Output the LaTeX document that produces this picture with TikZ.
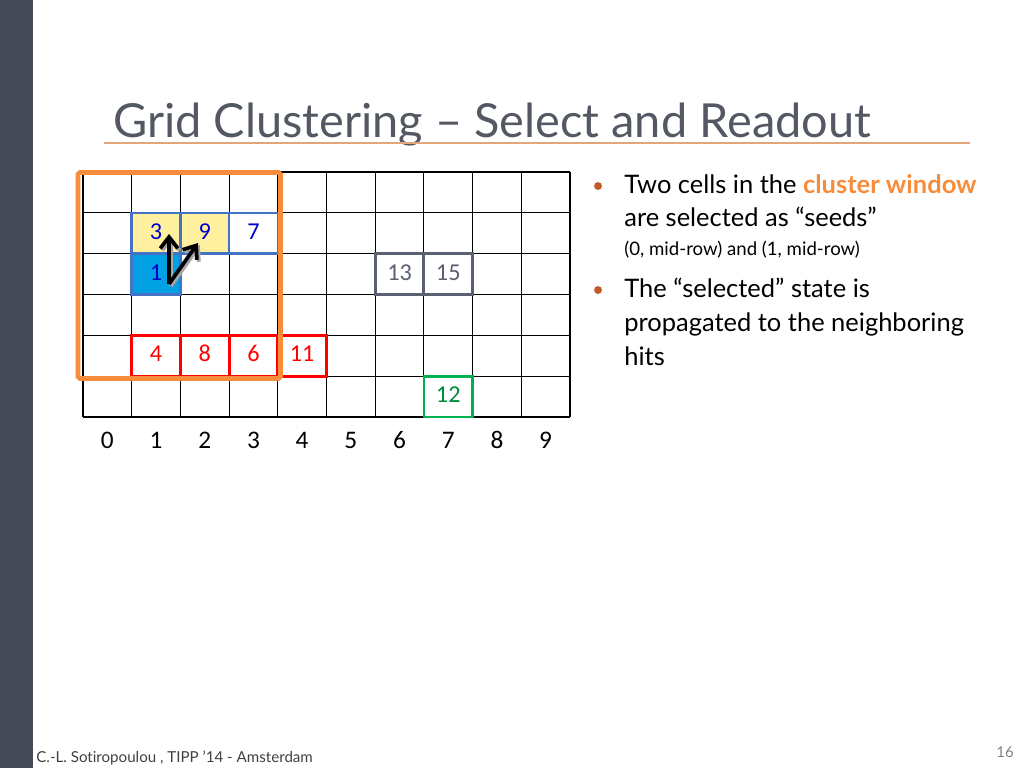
\documentclass[tikz,border=0pt]{standalone}
\usepackage{fontspec}
\setmainfont{Lato}[Ligatures=NoCommon]
\newfontfamily\gridfont{Carlito}
\usetikzlibrary{arrows.meta,positioning}
\definecolor{sidebar}{RGB}{69,74,86}
\definecolor{titlegray}{RGB}{83,88,99}
\definecolor{ruleorange}{RGB}{228,165,125}
\definecolor{windoworange}{RGB}{247,140,58}
\definecolor{seedyellow}{RGB}{255,240,160}
\definecolor{seedblue}{RGB}{0,160,226}
\definecolor{hitblue}{RGB}{68,114,196}
\definecolor{numblue}{RGB}{0,0,204}
\definecolor{hitgray}{RGB}{90,96,112}
\definecolor{hitgreen}{RGB}{0,176,80}
\definecolor{numgreen}{RGB}{0,140,60}
\definecolor{bulletred}{RGB}{196,89,40}
\tikzset{
  cell/.style={draw, inner sep=0pt, minimum width=0.974cm, minimum height=0.817cm,
    text height=1.6ex, text depth=0.2ex, font=\gridfont\fontsize{13.8}{13.8}\selectfont},
  seedcell/.style={cell, draw=hitblue, line width=1.4pt, text=numblue},
  redcell/.style={cell, draw=red, line width=1.6pt, text=red},
  graycell/.style={cell, draw=hitgray, line width=1.6pt, text=hitgray},
  greencell/.style={cell, draw=hitgreen, line width=1.6pt, text=numgreen},
  colnum/.style={anchor=base, inner sep=0pt, font=\gridfont\fontsize{14.4}{14.4}\selectfont},
  bullettext/.style={anchor=base west, inner sep=0pt, font=\fontsize{14.5}{14.5}\selectfont},
  dot/.style={circle, fill=bulletred, inner sep=0pt, minimum size=4.5pt},
  seedarrow/.style={-{Straight Barb[length=6.5pt,width=10pt]}, line width=2.1pt}
}
\begin{document}
\begin{tikzpicture}[x=0.02cm,y=-0.02cm]
  \useasboundingbox (0,0) rectangle (1024,768);
  \fill[sidebar] (0,0) rectangle (33,768);
  % title
  \node[anchor=base west, inner sep=0pt, text=titlegray, font=\fontsize{26.7}{26.7}\selectfont]
    (title) at (113,137) {Grid Clustering -- Select and Readout};
  \draw[ruleorange, line width=0.8pt] (104,143) -- (970,143);
  % grid
  \foreach \i in {0,...,10}
    \draw[line width=0.6pt] (83+48.7*\i,172) -- (83+48.7*\i,417);
  \foreach \j in {0,...,6}
    \draw[line width=0.6pt] (83,172+40.83*\j) -- (570,172+40.83*\j);
  \foreach \i in {0,...,9}
    \node[colnum] (col\i) at (107.35+48.7*\i,448) {\i};
  % hits
  \node[seedcell, fill=seedyellow] (h3) at (156.05,233.2) {3};
  \node[seedcell, fill=seedyellow] (h9) at (204.75,233.2) {9};
  \node[seedcell] (h7) at (253.45,233.2) {7};
  \node[seedcell, fill=seedblue] (h1) at (156.05,274.1) {1};
  \node[graycell] (h13) at (399.55,274.1) {13};
  \node[graycell] (h15) at (448.25,274.1) {15};
  \node[redcell] (h4) at (156.05,355.7) {4};
  \node[redcell] (h8) at (204.75,355.7) {8};
  \node[redcell] (h6) at (253.45,355.7) {6};
  \node[redcell] (h11) at (302.15,355.7) {11};
  \node[greencell] (h12) at (448.25,396.6) {12};
  % cluster window
  \draw[windoworange, line width=2.6pt, rounded corners=1pt] (78,172.5) rectangle (280.5,378.5);
  % seed arrows
  \coordinate (tail) at (169,284);
  \coordinate (tip3) at (169,234);
  \coordinate (tip9) at (198,243);
  \draw[seedarrow, black!35] ([shift={(2,2)}]tail) -- ([shift={(2,2)}]tip3);
  \draw[seedarrow, black!35] ([shift={(2,2)}]tail) -- ([shift={(2,2)}]tip9);
  \draw[seedarrow] (tail) -- (tip3);
  \draw[seedarrow] (tail) -- (tip9);
  % bullets
  \node[dot] (d1) at (598,186) {};
  \node[dot] (d2) at (598,290) {};
  \node[bullettext] (t1) at (624,193) {Two cells in the \textcolor{windoworange}{\bfseries cluster window}};
  \node[bullettext] (t2) at (624,226) {are selected as “seeds”};
  \node[bullettext, font=\fontsize{10.6}{10.6}\selectfont] (t3) at (624,255) {(0, mid-row) and (1, mid-row)};
  \node[bullettext] (t4) at (624,297) {The “selected” state is};
  \node[bullettext] (t5) at (624,331) {propagated to the neighboring};
  \node[bullettext] (t6) at (624,365) {hits};
  % footer
  \node[anchor=base west, inner sep=0pt, text=black!75, font=\fontsize{8.6}{8.6}\selectfont]
    (foot) at (36,762) {C.-L. Sotiropoulou , TIPP '14 - Amsterdam};
  \node[anchor=base east, inner sep=0pt, text=black!50, font=\fontsize{8.5}{8.5}\selectfont]
    (page) at (1014,757) {16};
\end{tikzpicture}
\end{document}
